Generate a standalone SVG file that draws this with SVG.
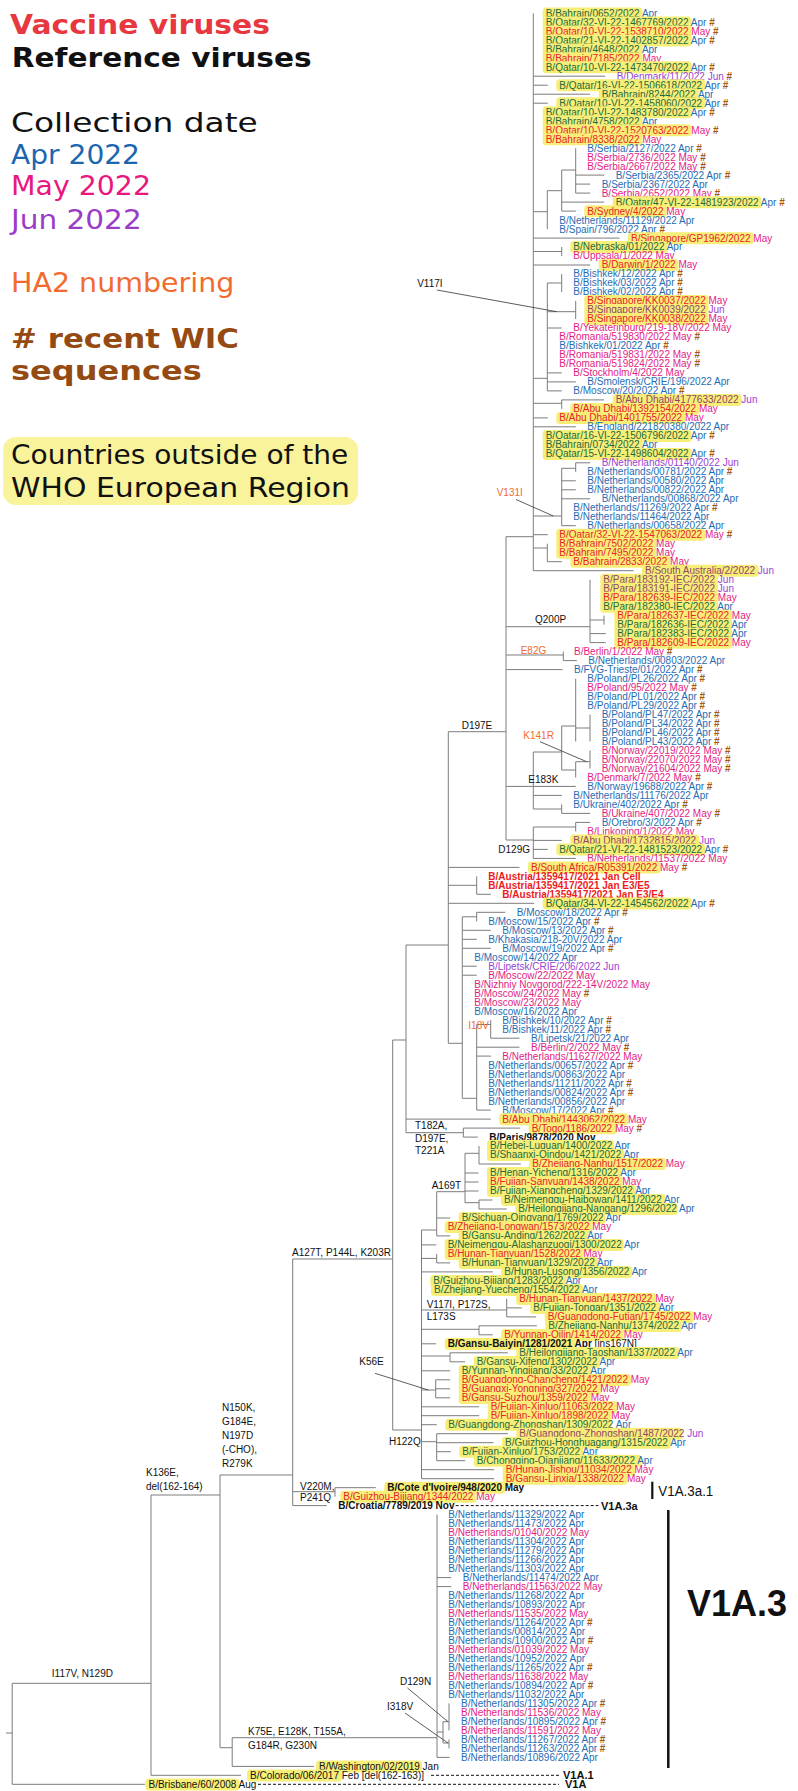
<svg xmlns="http://www.w3.org/2000/svg" width="798" height="1791" viewBox="0 0 798 1791">
<style>
.t{font-family:"Liberation Sans",Arial,sans-serif;font-size:10px}
.a{fill:#1f6cb3}.m{fill:#e31c84}.j{fill:#9b3fcf}
.ga{fill:#22693f}.gm{fill:#e8222c}.gj{fill:#8e4468}
.h{fill:#a25a12;font-weight:bold}
.r{fill:#111;font-weight:bold}
.k{fill:#111}
.v{fill:#ee1b1b;font-weight:bold}
.hl{fill:#f7ee78}
.br{fill:none;stroke:#7c7c7c;stroke-width:1}
.pt{fill:none;stroke:#333;stroke-width:0.8}
.mu{font-family:"Liberation Sans",Arial,sans-serif;font-size:10px;fill:#111}
.mo{fill:#f26b2e}
.lg{font-family:"DejaVu Sans",Verdana,sans-serif;font-size:26.5px}
.dash{fill:none;stroke:#111;stroke-width:1;stroke-dasharray:3 2}
.cl{font-family:"Liberation Sans",Arial,sans-serif;font-weight:bold;font-size:11px;fill:#111}
</style>

<g id="legend">
<text class="lg" x="10" y="34.3" fill="#e6383e" font-weight="bold" textLength="260" lengthAdjust="spacingAndGlyphs">Vaccine viruses</text>
<text class="lg" x="11.7" y="66.7" fill="#111" font-weight="bold" textLength="300" lengthAdjust="spacingAndGlyphs">Reference viruses</text>
<text class="lg" x="11" y="131.7" fill="#111" textLength="246.7" lengthAdjust="spacingAndGlyphs">Collection date</text>
<text class="lg" x="11" y="164.3" fill="#1a67b0" textLength="129" lengthAdjust="spacingAndGlyphs">Apr 2022</text>
<text class="lg" x="11" y="195" fill="#e8187f" textLength="140" lengthAdjust="spacingAndGlyphs">May 2022</text>
<text class="lg" x="11" y="229.3" fill="#9b3cc9" textLength="130.7" lengthAdjust="spacingAndGlyphs">Jun 2022</text>
<text class="lg" x="11" y="291.7" fill="#f26b2e" textLength="223.3" lengthAdjust="spacingAndGlyphs">HA2 numbering</text>
<text class="lg" x="11" y="347.7" fill="#954a12" font-weight="bold" textLength="228" lengthAdjust="spacingAndGlyphs"># recent WIC</text>
<text class="lg" x="11" y="380" fill="#954a12" font-weight="bold" textLength="190.7" lengthAdjust="spacingAndGlyphs">sequences</text>
<rect x="3" y="437" width="355" height="68" rx="13" fill="#f9f39b"/>
<text class="lg" x="11" y="464.3" fill="#111" textLength="337.3" lengthAdjust="spacingAndGlyphs">Countries outside of the</text>
<text class="lg" x="11" y="496.7" fill="#111" textLength="339" lengthAdjust="spacingAndGlyphs">WHO European Region</text>
</g>

<g id="tree">
<path class="br" d="M533.3 13.3V570.7M506 536.7H533.3M533.3 76.2H605.2M533.3 85.2H547.8M533.3 94.2H590.2M533.3 103.2H547.8
M533.3 211.7H547.3M547.3 190.7V229.1M547.3 190.7H561.7M561.7 170V211.1M561.7 170H575.7M575.7 148.2V193.1
M575.7 175.1H604.2M575.7 184.1H590.2M575.7 193.1H590.2M561.7 202.1H604.2M561.7 211.1H575.8
M533.3 238.1H619.5M533.3 251.5H561.7M561.7 247V256M533.3 265H590.2
M533.3 378.3H547.3M547.3 283V390.9M547.3 283H561.7M561.7 274V292M547.3 311.7H575.7M575.7 301V319
M547.3 328H561.8M547.3 372.9H561.8M547.3 381.9H575.8M547.3 390.9H561.8
M533.3 403.3H561.7M561.7 399.9V408.9M561.7 399.9H604.2M533.3 417.9H547.8M533.3 426.8H575.8
M533.3 516H561.7M561.7 468.3V525.7M561.7 468.3H575.7M575.7 462.8V471.8M575.7 462.8H590.2
M561.7 480.8H575.8M561.7 489.8H575.8M561.7 498.8H590.2M561.7 525.7H575.8
M533.3 534.7H547.8M533.3 548H547.3M547.3 543.7V561.7M547.3 561.7H561.8M533.3 570.7H633.5
M506 536.7V840M506 626.7H590M590 579.7V642.6M590 620H604M604 615.6V624.6M590 633.6H605.8M590 642.6H605.8
M506 655H563.3M563.3 651.6V660.6M563.3 660.6H576.8M506 669.6H562.5
M506 786.4H533.3M533.3 752V809M533.3 752H561.7M561.7 726V770M561.7 726H575.7M575.7 678.6V741.5
M575.7 728H590M590 714.5V741.5M561.7 770H575.7M575.7 761.7V777.5M575.7 761.7H590M590 750.5V768.5
M533.3 786.4H575.8M533.3 795.4H561.8M533.3 809H561.7M561.7 804.4V813.4M561.7 813.4H590.2
M506 840H533.3M533.3 827V858.4M533.3 827H575.7M575.7 822.4V831.4M575.7 822.4H590.2
M533.3 840.4H561.8M533.3 849.4H547.8M533.3 858.4H575.8
M448.3 731.7V1043.3M448.3 731.7H506M406 945H448.3M448.3 867.4H519.5
M448.3 885.3H476.7M476.7 876.3V894.3M476.7 894.3H490.8M448.3 903.3H534.2
M448.3 1043.3H462.3M462.3 916.8V1098.3M462.3 916.8H476.7M476.7 912.3V921.3M476.7 912.3H505.2
M462.3 930.3H490.8M462.3 939.3H476.8M462.3 948.3H490.8M462.3 966.2H476.8M462.3 975.2H476.8
M462.3 1098.3H476.7M476.7 1024.5V1110.1M476.7 1024.5H490.7M490.7 1020.2V1038.2M490.7 1038.2H519.5
M476.7 1047.2H519.5M476.7 1056.1H490.8M476.7 1110.1H490.8
M406 945V1132.7M392.7 1040H406M406 1119.1H490.8M406 1132.7H463.3M463.3 1128.1V1137.1M463.3 1128.1H520.2M463.3 1137.1H477.8
M392.7 1040V1430M292.7 1259H392.7M392.7 1430H421.5M421.5 1230V1478.7
M421.5 1230H436.7M436.7 1191.7V1235.9M436.7 1191.7H465M465 1153.3V1202.7M465 1153.3H479M479 1146V1164M479 1164H520.8
M465 1173H478.5M465 1182H478.5M465 1191H478.5M465 1202.7H479M479 1200V1209M479 1200H492.5M479 1209H506.8
M436.7 1218H450.2M436.7 1235.9H450.2M421.5 1244.9H436.2
M421.5 1258.4H436.7M436.7 1253.9V1262.9M436.7 1262.9H450.2M421.5 1271.9H492.8
M421.5 1310H506.7M506.7 1298.9V1316.9M506.7 1307.9H521.8M506.7 1316.9H536.2
M421.5 1329.3H479M479 1325.8V1334.8M479 1325.8H536.8M479 1334.8H492.8M421.5 1343.8H436.2
M421.5 1356H450M450 1352.8V1361.8M450 1352.8H507.8M450 1361.8H465.2M421.5 1370.8H450.2
M421.5 1390H435.7M435.7 1379.8V1397.8M435.7 1379.8H450.2M435.7 1388.8H450.2M435.7 1397.8H450.2
M421.5 1406.8H479.2M421.5 1415.7H479.2M421.5 1424.7H436.8
M421.5 1441.7H436.7M436.7 1433.7V1460.7M436.7 1433.7H507.8M436.7 1442.7H493.5M436.7 1451.7H450.8M436.7 1460.7H465.2
M421.5 1469.7H494.2M421.5 1478.7H494.2
M292.7 1259V1505.6M220 1475H292.7M292.7 1491.7H335M335 1487.7V1496.7M335 1487.7H375.8M292.7 1505.6H326.8
M220 1475V1747.7M151 1495H220M220 1747.7H232.2M232.2 1737.7V1766.4M232.2 1737.7H437M232.2 1766.4H314
M437 1514.6V1757.4M437 1577.6H451.2M437 1586.6H451.2M437 1732H443M443 1721.7V1743M443 1721.7H449M449 1703.4V1730.4
M443 1743H449M449 1739.4V1748.4M437 1757.4H449.5
M151 1495V1775.3M151 1775.3H241M12.2 1683.3H151M12.2 1683.3V1784.3M12.2 1784.3H145M6 1733H12.2"/>
<path class="pt" d="M437 290L556.7 311.7M516 499.5L553.3 516M540 741.7L586.7 761.7M375 1373.3L428.3 1390M407.5 1688L448 1721.7M405 1713L448 1743"/>
<path class="dash" d="M455.7 1505.6H598.3M431 1775.3H559M258 1784.3H559"/>
<path d="M652.3 1481.7V1499" stroke="#111" stroke-width="2.2"/>
<path d="M668.3 1510V1768" stroke="#111" stroke-width="2.5"/>
</g>

<g id="mutations" class="mu">
<text x="417.2" y="287">V117I</text>
<text x="496.7" y="496.3" class="mo">V131I</text>
<text x="535" y="622.6">Q200P</text>
<text x="520.7" y="653.6" class="mo">E82G</text>
<text x="461.7" y="728.6">D197E</text>
<text x="523.3" y="738.6" class="mo">K141R</text>
<text x="528.3" y="782.9">E183K</text>
<text x="498.3" y="852.6">D129G</text>
<text x="468.3" y="1029.3" class="mo">I18V</text>
<text x="415" y="1128.6">T182A,</text>
<text x="415" y="1141.9">D197E,</text>
<text x="415" y="1154.3">T221A</text>
<text x="431.7" y="1188.6">A169T</text>
<text x="292" y="1256.3">A127T, P144L, K203R</text>
<text x="426.7" y="1307.6">V117I, P172S,</text>
<text x="426.7" y="1319.6">L173S</text>
<text x="359.3" y="1364.6">K56E</text>
<text x="389" y="1444.6">H122Q</text>
<text x="222" y="1410.6">N150K,</text>
<text x="222" y="1424.6">G184E,</text>
<text x="222" y="1438.6">N197D</text>
<text x="222" y="1452.6">(-CHO),</text>
<text x="222" y="1466.6">R279K</text>
<text x="146" y="1476">K136E,</text>
<text x="146" y="1490">del(162-164)</text>
<text x="300" y="1490.3">V220M,</text>
<text x="300" y="1500.9">P241Q</text>
<text x="51.8" y="1677">I117V, N129D</text>
<text x="248" y="1735.3">K75E, E128K, T155A,</text>
<text x="248" y="1749.3">G184R, G230N</text>
<text x="400" y="1685.3">D129N</text>
<text x="387" y="1710.3">I318V</text>
</g>

<g id="clades">
<text class="cl" x="601" y="1509.5">V1A.3a</text>
<text class="cl" x="563" y="1779">V1A.1</text>
<text class="cl" x="565" y="1788">V1A</text>
<text x="658.3" y="1495.5" font-family="Liberation Sans, Arial, sans-serif" font-size="14" fill="#111" textLength="55" lengthAdjust="spacingAndGlyphs">V1A.3a.1</text>
<text x="687" y="1616" font-family="Liberation Sans, Arial, sans-serif" font-size="36" font-weight="bold" fill="#111">V1A.3</text>
</g>

<g id="n1"><rect class="hl" x="542.7" y="7.4" width="99.9" height="12" rx="3.5"/><text class="t" x="545.7" y="16.7"><tspan class="ga">B/Bahrain/0652/2022</tspan> <tspan class="a">Apr</tspan></text></g>
<g id="n2"><rect class="hl" x="542.7" y="16.4" width="148.9" height="12" rx="3.5"/><text class="t" x="545.7" y="25.7"><tspan class="ga">B/Qatar/32-VI-22-1467769/2022</tspan> <tspan class="a">Apr</tspan> <tspan class="h">#</tspan></text></g>
<g id="n3"><rect class="hl" x="542.7" y="25.4" width="148.9" height="12" rx="3.5"/><text class="t" x="545.7" y="34.7"><tspan class="gm">B/Qatar/10-VI-22-1538710/2022</tspan> <tspan class="m">May</tspan> <tspan class="h">#</tspan></text></g>
<g id="n4"><rect class="hl" x="542.7" y="34.4" width="148.9" height="12" rx="3.5"/><text class="t" x="545.7" y="43.7"><tspan class="ga">B/Qatar/21-VI-22-1402857/2022</tspan> <tspan class="a">Apr</tspan> <tspan class="h">#</tspan></text></g>
<g id="n5"><rect class="hl" x="542.7" y="43.4" width="99.9" height="12" rx="3.5"/><text class="t" x="545.7" y="52.7"><tspan class="ga">B/Bahrain/4648/2022</tspan> <tspan class="a">Apr</tspan></text></g>
<g id="n6"><rect class="hl" x="542.7" y="52.3" width="99.9" height="12" rx="3.5"/><text class="t" x="545.7" y="61.6"><tspan class="gm">B/Bahrain/7185/2022</tspan> <tspan class="m">May</tspan></text></g>
<g id="n7"><rect class="hl" x="542.7" y="61.3" width="148.9" height="12" rx="3.5"/><text class="t" x="545.7" y="70.6"><tspan class="ga">B/Qatar/10-VI-22-1473470/2022</tspan> <tspan class="a">Apr</tspan> <tspan class="h">#</tspan></text></g>
<g id="n8"><text class="t j" x="616.7" y="79.6">B/Denmark/11/2022 Jun <tspan class="h">#</tspan></text></g>
<g id="n9"><rect class="hl" x="556.3" y="79.3" width="148.9" height="12" rx="3.5"/><text class="t" x="559.3" y="88.6"><tspan class="ga">B/Qatar/16-VI-22-1506618/2022</tspan> <tspan class="a">Apr</tspan> <tspan class="h">#</tspan></text></g>
<g id="n10"><rect class="hl" x="598.7" y="88.3" width="99.9" height="12" rx="3.5"/><text class="t" x="601.7" y="97.6"><tspan class="ga">B/Bahrain/8244/2022</tspan> <tspan class="a">Apr</tspan></text></g>
<g id="n11"><rect class="hl" x="556.3" y="97.3" width="148.9" height="12" rx="3.5"/><text class="t" x="559.3" y="106.6"><tspan class="ga">B/Qatar/10-VI-22-1458060/2022</tspan> <tspan class="a">Apr</tspan> <tspan class="h">#</tspan></text></g>
<g id="n12"><rect class="hl" x="542.7" y="106.3" width="148.9" height="12" rx="3.5"/><text class="t" x="545.7" y="115.6"><tspan class="ga">B/Qatar/10-VI-22-1483780/2022</tspan> <tspan class="a">Apr</tspan> <tspan class="h">#</tspan></text></g>
<g id="n13"><rect class="hl" x="542.7" y="115.3" width="99.9" height="12" rx="3.5"/><text class="t" x="545.7" y="124.6"><tspan class="ga">B/Bahrain/4758/2022</tspan> <tspan class="a">Apr</tspan></text></g>
<g id="n14"><rect class="hl" x="542.7" y="124.3" width="148.9" height="12" rx="3.5"/><text class="t" x="545.7" y="133.6"><tspan class="gm">B/Qatar/10-VI-22-1520763/2022</tspan> <tspan class="m">May</tspan> <tspan class="h">#</tspan></text></g>
<g id="n15"><rect class="hl" x="542.7" y="133.3" width="99.9" height="12" rx="3.5"/><text class="t" x="545.7" y="142.6"><tspan class="gm">B/Bahrain/8338/2022</tspan> <tspan class="m">May</tspan></text></g>
<g id="n16"><text class="t a" x="587.3" y="151.6">B/Serbia/2127/2022 Apr <tspan class="h">#</tspan></text></g>
<g id="n17"><text class="t m" x="587.3" y="160.5">B/Serbia/2736/2022 May <tspan class="h">#</tspan></text></g>
<g id="n18"><text class="t m" x="587.3" y="169.5">B/Serbia/2667/2022 May <tspan class="h">#</tspan></text></g>
<g id="n19"><text class="t a" x="615.7" y="178.5">B/Serbia/2365/2022 Apr <tspan class="h">#</tspan></text></g>
<g id="n20"><text class="t a" x="601.7" y="187.5">B/Serbia/2367/2022 Apr</text></g>
<g id="n21"><text class="t m" x="601.7" y="196.5">B/Serbia/2652/2022 May <tspan class="h">#</tspan></text></g>
<g id="n22"><rect class="hl" x="612.7" y="196.2" width="148.9" height="12" rx="3.5"/><text class="t" x="615.7" y="205.5"><tspan class="ga">B/Qatar/47-VI-22-1481923/2022</tspan> <tspan class="a">Apr</tspan> <tspan class="h">#</tspan></text></g>
<g id="n23"><rect class="hl" x="584.3" y="205.2" width="82.2" height="12" rx="3.5"/><text class="t" x="587.3" y="214.5"><tspan class="gm">B/Sydney/4/2022</tspan> <tspan class="m">May</tspan></text></g>
<g id="n24"><text class="t a" x="559.3" y="223.5">B/Netherlands/11129/2022 Apr</text></g>
<g id="n25"><text class="t a" x="559.3" y="232.5">B/Spain/796/2022 Apr <tspan class="h">#</tspan></text></g>
<g id="n26"><rect class="hl" x="628" y="232.2" width="125.5" height="12" rx="3.5"/><text class="t" x="631" y="241.5"><tspan class="gm">B/Singapore/GP1962/2022</tspan> <tspan class="m">May</tspan></text></g>
<g id="n27"><rect class="hl" x="570.3" y="241.1" width="97.2" height="12" rx="3.5"/><text class="t" x="573.3" y="250.4"><tspan class="ga">B/Nebraska/01/2022</tspan> <tspan class="a">Apr</tspan></text></g>
<g id="n28"><text class="t m" x="573.3" y="259.4">B/Uppsala/1/2022 May</text></g>
<g id="n29"><rect class="hl" x="598.7" y="259.1" width="79.9" height="12" rx="3.5"/><text class="t" x="601.7" y="268.4"><tspan class="gm">B/Darwin/1/2022</tspan> <tspan class="m">May</tspan></text></g>
<g id="n30"><text class="t a" x="573.3" y="277.4">B/Bishkek/12/2022 Apr <tspan class="h">#</tspan></text></g>
<g id="n31"><text class="t a" x="573.3" y="286.4">B/Bishkek/03/2022 Apr <tspan class="h">#</tspan></text></g>
<g id="n32"><text class="t a" x="573.3" y="295.4">B/Bishkek/02/2022 Apr <tspan class="h">#</tspan></text></g>
<g id="n33"><rect class="hl" x="584.3" y="295.1" width="124.4" height="12" rx="3.5"/><text class="t" x="587.3" y="304.4"><tspan class="gm">B/Singapore/KK0037/2022</tspan> <tspan class="m">May</tspan></text></g>
<g id="n34"><rect class="hl" x="584.3" y="304.1" width="124.4" height="12" rx="3.5"/><text class="t" x="587.3" y="313.4"><tspan class="gj">B/Singapore/KK0039/2022</tspan> <tspan class="j">Jun</tspan></text></g>
<g id="n35"><rect class="hl" x="584.3" y="313.1" width="124.4" height="12" rx="3.5"/><text class="t" x="587.3" y="322.4"><tspan class="gm">B/Singapore/KK0038/2022</tspan> <tspan class="m">May</tspan></text></g>
<g id="n36"><text class="t m" x="573.3" y="331.4">B/Yekaterinburg/219-18V/2022 May</text></g>
<g id="n37"><text class="t m" x="559.3" y="340.3">B/Romania/519830/2022 May <tspan class="h">#</tspan></text></g>
<g id="n38"><text class="t a" x="559.3" y="349.3">B/Bishkek/01/2022 Apr <tspan class="h">#</tspan></text></g>
<g id="n39"><text class="t m" x="559.3" y="358.3">B/Romania/519831/2022 May <tspan class="h">#</tspan></text></g>
<g id="n40"><text class="t m" x="559.3" y="367.3">B/Romania/519824/2022 May <tspan class="h">#</tspan></text></g>
<g id="n41"><text class="t m" x="573.3" y="376.3">B/Stockholm/4/2022 May</text></g>
<g id="n42"><text class="t a" x="587.3" y="385.3">B/Smolensk/CRIE/196/2022 Apr</text></g>
<g id="n43"><text class="t a" x="573.3" y="394.3">B/Moscow/20/2022 Apr <tspan class="h">#</tspan></text></g>
<g id="n44"><rect class="hl" x="612.7" y="394" width="128.9" height="12" rx="3.5"/><text class="t" x="615.7" y="403.3"><tspan class="gj">B/Abu Dhabi/4177633/2022</tspan> <tspan class="j">Jun</tspan></text></g>
<g id="n45"><rect class="hl" x="570.3" y="403" width="128.9" height="12" rx="3.5"/><text class="t" x="573.3" y="412.3"><tspan class="gm">B/Abu Dhabi/1392154/2022</tspan> <tspan class="m">May</tspan></text></g>
<g id="n46"><rect class="hl" x="556.3" y="412" width="128.9" height="12" rx="3.5"/><text class="t" x="559.3" y="421.3"><tspan class="gm">B/Abu Dhabi/1401755/2022</tspan> <tspan class="m">May</tspan></text></g>
<g id="n47"><text class="t a" x="587.3" y="430.2">B/England/221820380/2022 Apr</text></g>
<g id="n48"><rect class="hl" x="542.7" y="429.9" width="148.9" height="12" rx="3.5"/><text class="t" x="545.7" y="439.2"><tspan class="ga">B/Qatar/16-VI-22-1506796/2022</tspan> <tspan class="a">Apr</tspan> <tspan class="h">#</tspan></text></g>
<g id="n49"><rect class="hl" x="542.7" y="438.9" width="99.9" height="12" rx="3.5"/><text class="t" x="545.7" y="448.2"><tspan class="ga">B/Bahrain/0734/2022</tspan> <tspan class="a">Apr</tspan></text></g>
<g id="n50"><rect class="hl" x="542.7" y="447.9" width="148.9" height="12" rx="3.5"/><text class="t" x="545.7" y="457.2"><tspan class="ga">B/Qatar/15-VI-22-1498604/2022</tspan> <tspan class="a">Apr</tspan> <tspan class="h">#</tspan></text></g>
<g id="n51"><text class="t j" x="601.7" y="466.2">B/Netherlands/01140/2022 Jun</text></g>
<g id="n52"><text class="t a" x="587.3" y="475.2">B/Netherlands/00781/2022 Apr <tspan class="h">#</tspan></text></g>
<g id="n53"><text class="t a" x="587.3" y="484.2">B/Netherlands/00580/2022 Apr</text></g>
<g id="n54"><text class="t a" x="587.3" y="493.2">B/Netherlands/00822/2022 Apr</text></g>
<g id="n55"><text class="t a" x="601.7" y="502.2">B/Netherlands/00868/2022 Apr</text></g>
<g id="n56"><text class="t a" x="573.3" y="511.2">B/Netherlands/11269/2022 Apr <tspan class="h">#</tspan></text></g>
<g id="n57"><text class="t a" x="573.3" y="520.1">B/Netherlands/11464/2022 Apr</text></g>
<g id="n58"><text class="t a" x="587.3" y="529.1">B/Netherlands/00658/2022 Apr</text></g>
<g id="n59"><rect class="hl" x="556.3" y="528.8" width="148.9" height="12" rx="3.5"/><text class="t" x="559.3" y="538.1"><tspan class="gm">B/Qatar/32-VI-22-1547063/2022</tspan> <tspan class="m">May</tspan> <tspan class="h">#</tspan></text></g>
<g id="n60"><rect class="hl" x="556.3" y="537.8" width="99.9" height="12" rx="3.5"/><text class="t" x="559.3" y="547.1"><tspan class="gm">B/Bahrain/7502/2022</tspan> <tspan class="m">May</tspan></text></g>
<g id="n61"><rect class="hl" x="556.3" y="546.8" width="99.9" height="12" rx="3.5"/><text class="t" x="559.3" y="556.1"><tspan class="gm">B/Bahrain/7495/2022</tspan> <tspan class="m">May</tspan></text></g>
<g id="n62"><rect class="hl" x="570.3" y="555.8" width="99.9" height="12" rx="3.5"/><text class="t" x="573.3" y="565.1"><tspan class="gm">B/Bahrain/2833/2022</tspan> <tspan class="m">May</tspan></text></g>
<g id="n63"><rect class="hl" x="642" y="564.8" width="116.6" height="12" rx="3.5"/><text class="t" x="645" y="574.1"><tspan class="gj">B/South Australia/2/2022</tspan> <tspan class="j">Jun</tspan></text></g>
<g id="n64"><rect class="hl" x="600.3" y="573.8" width="117.7" height="12" rx="3.5"/><text class="t" x="603.3" y="583.1"><tspan class="gj">B/Para/183192-IEC/2022</tspan> <tspan class="j">Jun</tspan></text></g>
<g id="n65"><rect class="hl" x="600.3" y="582.8" width="117.7" height="12" rx="3.5"/><text class="t" x="603.3" y="592.1"><tspan class="gj">B/Para/183191-IEC/2022</tspan> <tspan class="j">Jun</tspan></text></g>
<g id="n66"><rect class="hl" x="600.3" y="591.8" width="117.7" height="12" rx="3.5"/><text class="t" x="603.3" y="601.1"><tspan class="gm">B/Para/182639-IEC/2022</tspan> <tspan class="m">May</tspan></text></g>
<g id="n67"><rect class="hl" x="600.3" y="600.7" width="117.7" height="12" rx="3.5"/><text class="t" x="603.3" y="610"><tspan class="ga">B/Para/182380-IEC/2022</tspan> <tspan class="a">Apr</tspan></text></g>
<g id="n68"><rect class="hl" x="614.3" y="609.7" width="117.7" height="12" rx="3.5"/><text class="t" x="617.3" y="619"><tspan class="gm">B/Para/182637-IEC/2022</tspan> <tspan class="m">May</tspan></text></g>
<g id="n69"><rect class="hl" x="614.3" y="618.7" width="117.7" height="12" rx="3.5"/><text class="t" x="617.3" y="628"><tspan class="ga">B/Para/182636-IEC/2022</tspan> <tspan class="a">Apr</tspan></text></g>
<g id="n70"><rect class="hl" x="614.3" y="627.7" width="117.7" height="12" rx="3.5"/><text class="t" x="617.3" y="637"><tspan class="ga">B/Para/182383-IEC/2022</tspan> <tspan class="a">Apr</tspan></text></g>
<g id="n71"><rect class="hl" x="614.3" y="636.7" width="117.7" height="12" rx="3.5"/><text class="t" x="617.3" y="646"><tspan class="gm">B/Para/182609-IEC/2022</tspan> <tspan class="m">May</tspan></text></g>
<g id="n72"><text class="t m" x="574" y="655">B/Berlin/1/2022 May <tspan class="h">#</tspan></text></g>
<g id="n73"><text class="t a" x="588.3" y="664">B/Netherlands/00803/2022 Apr</text></g>
<g id="n74"><text class="t a" x="574" y="673">B/FVG-Trieste/01/2022 Apr <tspan class="h">#</tspan></text></g>
<g id="n75"><text class="t a" x="587.3" y="682">B/Poland/PL26/2022 Apr <tspan class="h">#</tspan></text></g>
<g id="n76"><text class="t m" x="587.3" y="691">B/Poland/95/2022 May <tspan class="h">#</tspan></text></g>
<g id="n77"><text class="t a" x="587.3" y="699.9">B/Poland/PL01/2022 Apr <tspan class="h">#</tspan></text></g>
<g id="n78"><text class="t a" x="587.3" y="708.9">B/Poland/PL29/2022 Apr <tspan class="h">#</tspan></text></g>
<g id="n79"><text class="t a" x="601.7" y="717.9">B/Poland/PL47/2022 Apr <tspan class="h">#</tspan></text></g>
<g id="n80"><text class="t a" x="601.7" y="726.9">B/Poland/PL34/2022 Apr <tspan class="h">#</tspan></text></g>
<g id="n81"><text class="t a" x="601.7" y="735.9">B/Poland/PL46/2022 Apr <tspan class="h">#</tspan></text></g>
<g id="n82"><text class="t a" x="601.7" y="744.9">B/Poland/PL43/2022 Apr <tspan class="h">#</tspan></text></g>
<g id="n83"><text class="t m" x="601.7" y="753.9">B/Norway/22019/2022 May <tspan class="h">#</tspan></text></g>
<g id="n84"><text class="t m" x="601.7" y="762.9">B/Norway/22070/2022 May <tspan class="h">#</tspan></text></g>
<g id="n85"><text class="t m" x="601.7" y="771.9">B/Norway/21604/2022 May <tspan class="h">#</tspan></text></g>
<g id="n86"><text class="t m" x="587.3" y="780.9">B/Denmark/7/2022 May <tspan class="h">#</tspan></text></g>
<g id="n87"><text class="t a" x="587.3" y="789.8">B/Norway/19688/2022 Apr <tspan class="h">#</tspan></text></g>
<g id="n88"><text class="t a" x="573.3" y="798.8">B/Netherlands/11176/2022 Apr</text></g>
<g id="n89"><text class="t a" x="573.3" y="807.8">B/Ukraine/402/2022 Apr <tspan class="h">#</tspan></text></g>
<g id="n90"><text class="t m" x="601.7" y="816.8">B/Ukraine/407/2022 May <tspan class="h">#</tspan></text></g>
<g id="n91"><text class="t a" x="601.7" y="825.8">B/Orebro/3/2022 Apr <tspan class="h">#</tspan></text></g>
<g id="n92"><text class="t m" x="587.3" y="834.8">B/Linkoping/1/2022 May</text></g>
<g id="n93"><rect class="hl" x="570.3" y="834.5" width="128.9" height="12" rx="3.5"/><text class="t" x="573.3" y="843.8"><tspan class="gj">B/Abu Dhabi/1732815/2022</tspan> <tspan class="j">Jun</tspan></text></g>
<g id="n94"><rect class="hl" x="556.3" y="843.5" width="148.9" height="12" rx="3.5"/><text class="t" x="559.3" y="852.8"><tspan class="ga">B/Qatar/21-VI-22-1481523/2022</tspan> <tspan class="a">Apr</tspan> <tspan class="h">#</tspan></text></g>
<g id="n95"><text class="t m" x="587.3" y="861.8">B/Netherlands/11537/2022 May</text></g>
<g id="n96"><rect class="hl" x="528" y="861.5" width="132.7" height="12" rx="3.5"/><text class="t" x="531" y="870.8"><tspan class="gm">B/South Africa/R05391/2022</tspan> <tspan class="m">May</tspan> <tspan class="h">#</tspan></text></g>
<g id="n97"><text class="t v" x="488.3" y="879.7">B/Austria/1359417/2021 Jan Cell</text></g>
<g id="n98"><text class="t v" x="488.3" y="888.7">B/Austria/1359417/2021 Jan E3/E5</text></g>
<g id="n99"><text class="t v" x="502.3" y="897.7">B/Austria/1359417/2021 Jan E3/E4</text></g>
<g id="n100"><rect class="hl" x="542.7" y="897.4" width="148.9" height="12" rx="3.5"/><text class="t" x="545.7" y="906.7"><tspan class="ga">B/Qatar/34-VI-22-1454562/2022</tspan> <tspan class="a">Apr</tspan> <tspan class="h">#</tspan></text></g>
<g id="n101"><text class="t a" x="516.7" y="915.7">B/Moscow/18/2022 Apr <tspan class="h">#</tspan></text></g>
<g id="n102"><text class="t a" x="488.3" y="924.7">B/Moscow/15/2022 Apr <tspan class="h">#</tspan></text></g>
<g id="n103"><text class="t a" x="502.3" y="933.7">B/Moscow/13/2022 Apr <tspan class="h">#</tspan></text></g>
<g id="n104"><text class="t a" x="488.3" y="942.7">B/Khakasia/218-20V/2022 Apr</text></g>
<g id="n105"><text class="t a" x="502.3" y="951.7">B/Moscow/19/2022 Apr <tspan class="h">#</tspan></text></g>
<g id="n106"><text class="t a" x="474.3" y="960.7">B/Moscow/14/2022 Apr</text></g>
<g id="n107"><text class="t j" x="488.3" y="969.6">B/Lipetsk/CRIE/206/2022 Jun</text></g>
<g id="n108"><text class="t m" x="488.3" y="978.6">B/Moscow/22/2022 May</text></g>
<g id="n109"><text class="t m" x="474.3" y="987.6">B/Nizhniy Novgorod/222-14V/2022 May</text></g>
<g id="n110"><text class="t m" x="474.3" y="996.6">B/Moscow/24/2022 May <tspan class="h">#</tspan></text></g>
<g id="n111"><text class="t m" x="474.3" y="1005.6">B/Moscow/23/2022 May</text></g>
<g id="n112"><text class="t a" x="474.3" y="1014.6">B/Moscow/16/2022 Apr</text></g>
<g id="n113"><text class="t a" x="502.3" y="1023.6">B/Bishkek/10/2022 Apr <tspan class="h">#</tspan></text></g>
<g id="n114"><text class="t a" x="502.3" y="1032.6">B/Bishkek/11/2022 Apr <tspan class="h">#</tspan></text></g>
<g id="n115"><text class="t a" x="531" y="1041.6">B/Lipetsk/21/2022 Apr</text></g>
<g id="n116"><text class="t m" x="531" y="1050.6">B/Berlin/2/2022 May <tspan class="h">#</tspan></text></g>
<g id="n117"><text class="t m" x="502.3" y="1059.5">B/Netherlands/11627/2022 May</text></g>
<g id="n118"><text class="t a" x="488.3" y="1068.5">B/Netherlands/00657/2022 Apr <tspan class="h">#</tspan></text></g>
<g id="n119"><text class="t a" x="488.3" y="1077.5">B/Netherlands/00863/2022 Apr</text></g>
<g id="n120"><text class="t a" x="488.3" y="1086.5">B/Netherlands/11211/2022 Apr <tspan class="h">#</tspan></text></g>
<g id="n121"><text class="t a" x="488.3" y="1095.5">B/Netherlands/00824/2022 Apr <tspan class="h">#</tspan></text></g>
<g id="n122"><text class="t a" x="488.3" y="1104.5">B/Netherlands/00856/2022 Apr</text></g>
<g id="n123"><text class="t a" x="502.3" y="1113.5">B/Moscow/17/2022 Apr <tspan class="h">#</tspan></text></g>
<g id="n124"><rect class="hl" x="499.3" y="1113.2" width="128.9" height="12" rx="3.5"/><text class="t" x="502.3" y="1122.5"><tspan class="gm">B/Abu Dhabi/1443062/2022</tspan> <tspan class="m">May</tspan></text></g>
<g id="n125"><rect class="hl" x="528.7" y="1122.2" width="88.3" height="12" rx="3.5"/><text class="t" x="531.7" y="1131.5"><tspan class="gm">B/Togo/1186/2022</tspan> <tspan class="m">May</tspan> <tspan class="h">#</tspan></text></g>
<g id="n126"><text class="t r" x="489.3" y="1140.5">B/Paris/9878/2020 Nov</text></g>
<g id="n127"><rect class="hl" x="487" y="1140.1" width="127.3" height="12" rx="3.5"/><text class="t" x="490" y="1149.4"><tspan class="ga">B/Hebei-Luquan/1400/2022</tspan> <tspan class="a">Apr</tspan></text></g>
<g id="n128"><rect class="hl" x="487" y="1149.1" width="137.2" height="12" rx="3.5"/><text class="t" x="490" y="1158.4"><tspan class="ga">B/Shaanxi-Qindou/1421/2022</tspan> <tspan class="a">Apr</tspan></text></g>
<g id="n129"><rect class="hl" x="529.3" y="1158.1" width="136.6" height="12" rx="3.5"/><text class="t" x="532.3" y="1167.4"><tspan class="gm">B/Zhejiang-Nanhu/1517/2022</tspan> <tspan class="m">May</tspan></text></g>
<g id="n130"><rect class="hl" x="487" y="1167.1" width="134.4" height="12" rx="3.5"/><text class="t" x="490" y="1176.4"><tspan class="ga">B/Henan-Yicheng/1316/2022</tspan> <tspan class="a">Apr</tspan></text></g>
<g id="n131"><rect class="hl" x="487" y="1176.1" width="135.5" height="12" rx="3.5"/><text class="t" x="490" y="1185.4"><tspan class="gm">B/Fujian-Sanyuan/1438/2022</tspan> <tspan class="m">May</tspan></text></g>
<g id="n132"><rect class="hl" x="487" y="1185.1" width="148.9" height="12" rx="3.5"/><text class="t" x="490" y="1194.4"><tspan class="ga">B/Fujian-Xiangcheng/1329/2022</tspan> <tspan class="a">Apr</tspan></text></g>
<g id="n133"><rect class="hl" x="501" y="1194.1" width="164.4" height="12" rx="3.5"/><text class="t" x="504" y="1203.4"><tspan class="ga">B/Neimenggu-Haibowan/1411/2022</tspan> <tspan class="a">Apr</tspan></text></g>
<g id="n134"><rect class="hl" x="515.3" y="1203.1" width="162.4" height="12" rx="3.5"/><text class="t" x="518.3" y="1212.4"><tspan class="ga">B/Heilongjiang-Nangang/1296/2022</tspan> <tspan class="a">Apr</tspan></text></g>
<g id="n135"><rect class="hl" x="458.7" y="1212.1" width="146.8" height="12" rx="3.5"/><text class="t" x="461.7" y="1221.4"><tspan class="ga">B/Sichuan-Qingyang/1769/2022</tspan> <tspan class="a">Apr</tspan></text></g>
<g id="n136"><rect class="hl" x="444.7" y="1221.1" width="147.8" height="12" rx="3.5"/><text class="t" x="447.7" y="1230.4"><tspan class="gm">B/Zhejiang-Longwan/1573/2022</tspan> <tspan class="m">May</tspan></text></g>
<g id="n137"><rect class="hl" x="458.7" y="1230" width="129.4" height="12" rx="3.5"/><text class="t" x="461.7" y="1239.3"><tspan class="ga">B/Gansu-Anding/1262/2022</tspan> <tspan class="a">Apr</tspan></text></g>
<g id="n138"><rect class="hl" x="444.7" y="1239" width="179" height="12" rx="3.5"/><text class="t" x="447.7" y="1248.3"><tspan class="ga">B/Neimenggu-Alashanzuoqi/1300/2022</tspan> <tspan class="a">Apr</tspan></text></g>
<g id="n139"><rect class="hl" x="444.7" y="1248" width="139.4" height="12" rx="3.5"/><text class="t" x="447.7" y="1257.3"><tspan class="gm">B/Hunan-Tianyuan/1528/2022</tspan> <tspan class="m">May</tspan></text></g>
<g id="n140"><rect class="hl" x="458.7" y="1257" width="139.4" height="12" rx="3.5"/><text class="t" x="461.7" y="1266.3"><tspan class="ga">B/Hunan-Tianyuan/1329/2022</tspan> <tspan class="a">Apr</tspan></text></g>
<g id="n141"><rect class="hl" x="501.3" y="1266" width="131.1" height="12" rx="3.5"/><text class="t" x="504.3" y="1275.3"><tspan class="ga">B/Hunan-Lusong/1356/2022</tspan> <tspan class="a">Apr</tspan></text></g>
<g id="n142"><rect class="hl" x="430.3" y="1275" width="136.1" height="12" rx="3.5"/><text class="t" x="433.3" y="1284.3"><tspan class="ga">B/Guizhou-Bijiang/1283/2022</tspan> <tspan class="a">Apr</tspan></text></g>
<g id="n143"><rect class="hl" x="431" y="1284" width="152.2" height="12" rx="3.5"/><text class="t" x="434" y="1293.3"><tspan class="ga">B/Zhejiang-Yuecheng/1554/2022</tspan> <tspan class="a">Apr</tspan></text></g>
<g id="n144"><rect class="hl" x="516.3" y="1293" width="139.4" height="12" rx="3.5"/><text class="t" x="519.3" y="1302.3"><tspan class="gm">B/Hunan-Tianyuan/1437/2022</tspan> <tspan class="m">May</tspan></text></g>
<g id="n145"><rect class="hl" x="530.3" y="1302" width="130" height="12" rx="3.5"/><text class="t" x="533.3" y="1311.3"><tspan class="ga">B/Fujian-Tongan/1351/2022</tspan> <tspan class="a">Apr</tspan></text></g>
<g id="n146"><rect class="hl" x="544.7" y="1311" width="148.9" height="12" rx="3.5"/><text class="t" x="547.7" y="1320.3"><tspan class="gm">B/Guangdong-Futian/1745/2022</tspan> <tspan class="m">May</tspan></text></g>
<g id="n147"><rect class="hl" x="545.3" y="1319.9" width="136.6" height="12" rx="3.5"/><text class="t" x="548.3" y="1329.2"><tspan class="ga">B/Zhejiang-Nanhu/1374/2022</tspan> <tspan class="a">Apr</tspan></text></g>
<g id="n148"><rect class="hl" x="501.3" y="1328.9" width="122.3" height="12" rx="3.5"/><text class="t" x="504.3" y="1338.2"><tspan class="gm">B/Yunnan-Qilin/1414/2022</tspan> <tspan class="m">May</tspan></text></g>
<g id="n149"><rect class="hl" x="444.7" y="1337.9" width="130.5" height="12" rx="3.5"/><text class="t" x="447.7" y="1347.2"><tspan class="r">B/Gansu-Baiyin/1281/2021 Apr</tspan> <tspan class="k">[ins167N]</tspan></text></g>
<g id="n150"><rect class="hl" x="516.3" y="1346.9" width="162.8" height="12" rx="3.5"/><text class="t" x="519.3" y="1356.2"><tspan class="ga">B/Heilongjiang-Taoshan/1337/2022</tspan> <tspan class="a">Apr</tspan></text></g>
<g id="n151"><rect class="hl" x="473.7" y="1355.9" width="126.6" height="12" rx="3.5"/><text class="t" x="476.7" y="1365.2"><tspan class="ga">B/Gansu-Xifeng/1302/2022</tspan> <tspan class="a">Apr</tspan></text></g>
<g id="n152"><rect class="hl" x="458.7" y="1364.9" width="132.3" height="12" rx="3.5"/><text class="t" x="461.7" y="1374.2"><tspan class="ga">B/Yunnan-Yingjiang/33/2022</tspan> <tspan class="a">Apr</tspan></text></g>
<g id="n153"><rect class="hl" x="458.7" y="1373.9" width="172.2" height="12" rx="3.5"/><text class="t" x="461.7" y="1383.2"><tspan class="gm">B/Guangdong-Chancheng/1421/2022</tspan> <tspan class="m">May</tspan></text></g>
<g id="n154"><rect class="hl" x="458.7" y="1382.9" width="142.7" height="12" rx="3.5"/><text class="t" x="461.7" y="1392.2"><tspan class="gm">B/Guangxi-Yongning/327/2022</tspan> <tspan class="m">May</tspan></text></g>
<g id="n155"><rect class="hl" x="458.7" y="1391.9" width="132.2" height="12" rx="3.5"/><text class="t" x="461.7" y="1401.2"><tspan class="gm">B/Gansu-Suzhou/1359/2022</tspan> <tspan class="m">May</tspan></text></g>
<g id="n156"><rect class="hl" x="487.7" y="1400.9" width="129.4" height="12" rx="3.5"/><text class="t" x="490.7" y="1410.2"><tspan class="gm">B/Fujian-Xinluo/11063/2022</tspan> <tspan class="m">May</tspan></text></g>
<g id="n157"><rect class="hl" x="487.7" y="1409.8" width="123.8" height="12" rx="3.5"/><text class="t" x="490.7" y="1419.1"><tspan class="gm">B/Fujian-Xinluo/1898/2022</tspan> <tspan class="m">May</tspan></text></g>
<g id="n158"><rect class="hl" x="445.3" y="1418.8" width="166.1" height="12" rx="3.5"/><text class="t" x="448.3" y="1428.1"><tspan class="ga">B/Guangdong-Zhongshan/1309/2022</tspan> <tspan class="a">Apr</tspan></text></g>
<g id="n159"><rect class="hl" x="516.3" y="1427.8" width="166.1" height="12" rx="3.5"/><text class="t" x="519.3" y="1437.1"><tspan class="gj">B/Guangdong-Zhongshan/1487/2022</tspan> <tspan class="j">Jun</tspan></text></g>
<g id="n160"><rect class="hl" x="502" y="1436.8" width="168.9" height="12" rx="3.5"/><text class="t" x="505" y="1446.1"><tspan class="ga">B/Guizhou-Honghuagang/1315/2022</tspan> <tspan class="a">Apr</tspan></text></g>
<g id="n161"><rect class="hl" x="459.3" y="1445.8" width="123.8" height="12" rx="3.5"/><text class="t" x="462.3" y="1455.1"><tspan class="ga">B/Fujian-Xinluo/1753/2022</tspan> <tspan class="a">Apr</tspan></text></g>
<g id="n162"><rect class="hl" x="473.7" y="1454.8" width="168" height="12" rx="3.5"/><text class="t" x="476.7" y="1464.1"><tspan class="ga">B/Chongqing-Qianjiang/11633/2022</tspan> <tspan class="a">Apr</tspan></text></g>
<g id="n163"><rect class="hl" x="502.7" y="1463.8" width="132.7" height="12" rx="3.5"/><text class="t" x="505.7" y="1473.1"><tspan class="gm">B/Hunan-Jishou/11034/2022</tspan> <tspan class="m">May</tspan></text></g>
<g id="n164"><rect class="hl" x="502.7" y="1472.8" width="124.4" height="12" rx="3.5"/><text class="t" x="505.7" y="1482.1"><tspan class="gm">B/Gansu-Linxia/1338/2022</tspan> <tspan class="m">May</tspan></text></g>
<g id="n165"><rect class="hl" x="384.3" y="1481.8" width="120.7" height="12" rx="3.5"/><text class="t r" x="387.3" y="1491.1">B/Cote d'Ivoire/948/2020 May</text></g>
<g id="n166"><rect class="hl" x="340.3" y="1490.8" width="136.1" height="12" rx="3.5"/><text class="t" x="343.3" y="1500.1"><tspan class="gm">B/Guizhou-Bijiang/1344/2022</tspan> <tspan class="m">May</tspan></text></g>
<g id="n167"><text class="t r" x="338.3" y="1509">B/Croatia/7789/2019 Nov</text></g>
<g id="n168"><text class="t a" x="448.3" y="1518">B/Netherlands/11329/2022 Apr</text></g>
<g id="n169"><text class="t a" x="448.3" y="1527">B/Netherlands/11473/2022 Apr</text></g>
<g id="n170"><text class="t m" x="448.3" y="1536">B/Netherlands/01040/2022 May</text></g>
<g id="n171"><text class="t a" x="448.3" y="1545">B/Netherlands/11304/2022 Apr</text></g>
<g id="n172"><text class="t a" x="448.3" y="1554">B/Netherlands/11279/2022 Apr</text></g>
<g id="n173"><text class="t a" x="448.3" y="1563">B/Netherlands/11266/2022 Apr</text></g>
<g id="n174"><text class="t a" x="448.3" y="1572">B/Netherlands/11303/2022 Apr</text></g>
<g id="n175"><text class="t a" x="462.7" y="1581">B/Netherlands/11474/2022 Apr</text></g>
<g id="n176"><text class="t m" x="462.7" y="1590">B/Netherlands/11563/2022 May</text></g>
<g id="n177"><text class="t a" x="448.3" y="1598.9">B/Netherlands/11268/2022 Apr</text></g>
<g id="n178"><text class="t a" x="448.3" y="1607.9">B/Netherlands/10893/2022 Apr</text></g>
<g id="n179"><text class="t m" x="448.3" y="1616.9">B/Netherlands/11535/2022 May</text></g>
<g id="n180"><text class="t a" x="448.3" y="1625.9">B/Netherlands/11264/2022 Apr <tspan class="h">#</tspan></text></g>
<g id="n181"><text class="t a" x="448.3" y="1634.9">B/Netherlands/00814/2022 Apr</text></g>
<g id="n182"><text class="t a" x="448.3" y="1643.9">B/Netherlands/10900/2022 Apr <tspan class="h">#</tspan></text></g>
<g id="n183"><text class="t m" x="448.3" y="1652.9">B/Netherlands/01039/2022 May</text></g>
<g id="n184"><text class="t a" x="448.3" y="1661.9">B/Netherlands/10952/2022 Apr</text></g>
<g id="n185"><text class="t a" x="448.3" y="1670.9">B/Netherlands/11265/2022 Apr <tspan class="h">#</tspan></text></g>
<g id="n186"><text class="t m" x="448.3" y="1679.9">B/Netherlands/11638/2022 May</text></g>
<g id="n187"><text class="t a" x="448.3" y="1688.8">B/Netherlands/10894/2022 Apr <tspan class="h">#</tspan></text></g>
<g id="n188"><text class="t a" x="448.3" y="1697.8">B/Netherlands/11032/2022 Apr</text></g>
<g id="n189"><text class="t a" x="461" y="1706.8">B/Netherlands/11305/2022 Apr <tspan class="h">#</tspan></text></g>
<g id="n190"><text class="t m" x="461" y="1715.8">B/Netherlands/11536/2022 May</text></g>
<g id="n191"><text class="t a" x="461" y="1724.8">B/Netherlands/10895/2022 Apr <tspan class="h">#</tspan></text></g>
<g id="n192"><text class="t m" x="461" y="1733.8">B/Netherlands/11591/2022 May</text></g>
<g id="n193"><text class="t a" x="461" y="1742.8">B/Netherlands/11267/2022 Apr <tspan class="h">#</tspan></text></g>
<g id="n194"><text class="t a" x="461" y="1751.8">B/Netherlands/11263/2022 Apr <tspan class="h">#</tspan></text></g>
<g id="n195"><text class="t a" x="461" y="1760.8">B/Netherlands/10896/2022 Apr</text></g>
<g id="n196"><rect class="hl" x="316" y="1760.5" width="106" height="12" rx="3.5"/><text class="t k" x="319" y="1769.8">B/Washington/02/2019 Jan</text></g>
<g id="n197"><rect class="hl" x="247" y="1769.4" width="95" height="12" rx="3.5"/><text class="t k" x="250" y="1778.7">B/Colorado/06/2017 Feb [del(162-163)]</text></g>
<g id="n198"><rect class="hl" x="145.5" y="1778.4" width="93.6" height="12" rx="3.5"/><text class="t k" x="148.5" y="1787.7">B/Brisbane/60/2008 Aug</text></g>
</svg>
